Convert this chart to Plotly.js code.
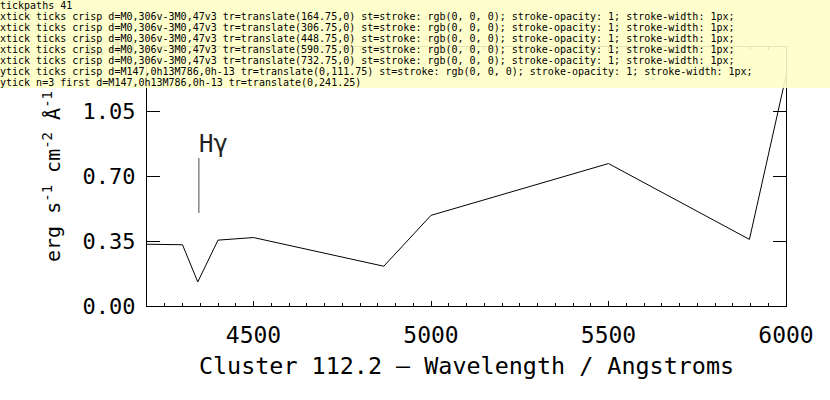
<!DOCTYPE html>
<html><head><meta charset="utf-8">
<script src="https://cdn.plot.ly/plotly-3.0.1.min.js"></script>
<style>body{margin:0;background:#fff}</style>
</head><body><div id="chart" style="width:830px;height:400px"></div>
<pre id="dbg" style="position:absolute;left:0;top:0;font-size:10px;margin:0;background:rgba(255,255,200,0.9);white-space:pre-wrap;width:830px"></pre>
<script>
const wavelength = [4200,4300,4343,4400,4500,4867,5000,5500,5897,6000];
const flux = [0.334,0.331,0.130,0.356,0.370,0.215,0.49,0.77,0.36,1.244];
const xTickVals = [4500, 5000, 5500, 6000];
const yTickVals = [0.00, 0.35, 0.70, 1.05, 1.40];
const yTickText = ['0.00', '0.35', '0.70', '1.05', '1.40'];
const FONT = 'DejaVu Sans Mono, monospace';
const trace = {x: wavelength, y: flux, type: 'scatter', mode: 'lines', line: {color: '#000', width: 1}, hoverinfo: 'skip'};
const layout = {
  width: 830, height: 400, margin: {l:147, r:44, t:47, b:94},
  paper_bgcolor: '#fff', plot_bgcolor: '#fff', showlegend: false, font: {family: FONT, color: '#000'},
  xaxis: {range: [4200, 6000], showgrid: false, zeroline: false, showline: true, linecolor: '#000', linewidth: 1, mirror: 'allticks',
    ticks: 'inside', ticklen: 5, tickwidth: 1, tickcolor: '#000', tickvals: xTickVals, tickfont: {family: FONT, size: 23, color: '#000'},
    ticklabelstandoff: 8, minor: {dtick: 50, ticks: 'inside', ticklen: 3, tickwidth: 1, tickcolor: '#000', showgrid: false},
    title: {text: 'Cluster 112.2 – Wavelength / Angstroms', font: {family: FONT, size: 23.4, color: '#000'}, standoff: 11}},
  yaxis: {range: [0, 1.40], showgrid: false, zeroline: false, showline: true, linecolor: '#000', linewidth: 1, mirror: 'allticks',
    ticks: 'inside', ticklen: 13, tickwidth: 1, tickcolor: '#000', tickvals: yTickVals, ticktext: yTickText,
    tickfont: {family: FONT, size: 22, color: '#000'}, ticklabelstandoff: 6,
    title: {text: 'erg s<sup>-1</sup> cm<sup>-2</sup> Å<sup>-1</sup>', font: {family: FONT, size: 20, color: '#000'}, standoff: 16}},
  shapes: [{type:'line', xref:'x', yref:'y', x0:4346, x1:4346, y0:0.503, y1:0.80, line:{color:'#888', width:1.5}}],
  annotations: [{x:4387, y:0.876, xref:'x', yref:'y', text:'Hγ', showarrow:false, font:{family:FONT, size:24, color:'#222'}}]
};
Plotly.newPlot('chart', [trace], layout, {displayModeBar: false, staticPlot: true}).then(()=>{
 const ps=[...document.querySelectorAll('path')].filter(p=>/tick/.test(p.getAttribute('class')||''));
 let s='tickpaths '+ps.length+'\n';
 ps.filter((p,i)=>i%8==0).slice(0,10).forEach(p=>{s+=p.getAttribute('class')+' d='+p.getAttribute('d')+' tr='+p.getAttribute('transform')+' st='+p.getAttribute('style')+'\n';});
 const yt=ps.filter(p=>/ytick/.test(p.getAttribute('class')));
 s+='ytick n='+yt.length+' first d='+(yt[0]&&yt[0].getAttribute('d'))+' tr='+(yt[0]&&yt[0].getAttribute('transform'))+'\n';
 document.getElementById('dbg').textContent=s;
}).catch(e=>{document.getElementById('dbg').textContent='ERR '+e;});
</script></body></html>
